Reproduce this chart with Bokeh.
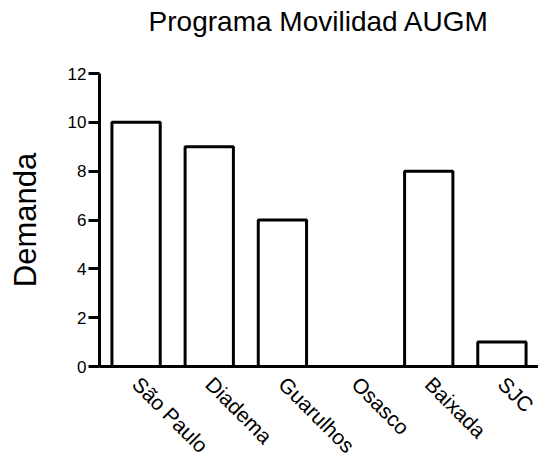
import math
from bokeh.plotting import figure
from bokeh.models import Range1d, FixedTicker, LinearAxis
from bokeh.embed import file_html
from bokeh.resources import INLINE

categories = ["São Paulo", "Diadema", "Guarulhos", "Osasco", "Baixada", "SJC"]
demanda = [10, 9, 6, 0, 8, 1]
y_ticks = [0, 2, 4, 6, 8, 10, 12]
title_text = "Programa Movilidad AUGM"
y_label = "Demanda"

FONT = "Liberation Sans"

# category slot centres on a numeric axis (one unit per category)
xpos = [i + 0.5 for i in range(len(categories))]

p = figure(
    x_range=Range1d(0, len(categories)),
    y_range=Range1d(0, 12),
    frame_width=439, frame_height=293,
    output_backend="svg", toolbar_location=None,
    min_border_left=99, min_border_top=73, min_border_right=0, min_border_bottom=0,
    background_fill_color="white", border_fill_color="white",
)
p.outline_line_color = None
p.grid.visible = False

# title drawn as the label of an invisible axis above the frame
tax = LinearAxis(ticker=FixedTicker(ticks=[]),
                 axis_line_color=None, major_tick_line_color=None,
                 minor_tick_line_color=None, major_tick_out=0, major_tick_in=0,
                 axis_label=title_text, axis_label_text_font=FONT,
                 axis_label_text_font_size="28px", axis_label_text_font_style="normal",
                 axis_label_text_color="black", axis_label_standoff=37)
p.add_layout(tax, "above")

p.vbar(x=xpos, top=demanda, width=0.66, bottom=0,
       fill_color="white", line_color="black", line_width=3)

ya = p.yaxis[0]
ya.ticker = FixedTicker(ticks=y_ticks)
ya.axis_line_width = 3
ya.major_tick_line_width = 3
ya.major_tick_out = 11
ya.major_tick_in = 0
ya.minor_tick_line_color = None
ya.major_label_text_font = FONT
ya.major_label_text_font_size = "17px"
ya.major_label_text_color = "black"
ya.major_label_standoff = 2
ya.axis_label = y_label
ya.axis_label_text_font = FONT
ya.axis_label_text_font_size = "31px"
ya.axis_label_text_font_style = "normal"
ya.axis_label_text_color = "black"
ya.axis_label_standoff = 22

xa = p.below[0]
xa.ticker = FixedTicker(ticks=xpos)
xa.major_label_overrides = {x: c for x, c in zip(xpos, categories)}
xa.axis_line_width = 3
xa.major_tick_line_color = None
xa.minor_tick_line_color = None
xa.major_tick_out = 0
xa.major_tick_in = 0
xa.major_label_orientation = -math.pi / 4
xa.major_label_text_font = FONT
xa.major_label_text_font_size = "21px"
xa.major_label_text_color = "black"
xa.major_label_standoff = 14

open("out.html", "w").write(file_html(p, INLINE))
